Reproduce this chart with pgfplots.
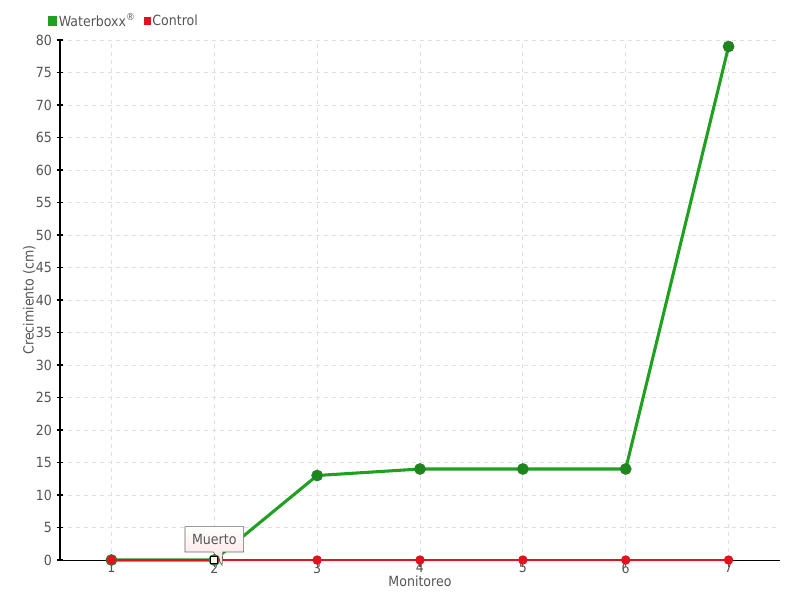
\documentclass[border=0pt]{standalone}
\usepackage{pgfplots}
\pgfplotsset{compat=1.18}
\usepackage{fontspec}
\setmainfont{DejaVu Sans Condensed}
\usetikzlibrary{shapes.callouts,shadings}
\definecolor{txt}{HTML}{555555}
\definecolor{wgreen}{HTML}{1FA01F}
\definecolor{wdark}{HTML}{2E7D2E}
\definecolor{cred}{HTML}{E3101E}
\definecolor{gridc}{HTML}{E0E0E0}
\begin{document}
\begin{tikzpicture}[x=0.75pt,y=0.75pt]
\path[use as bounding box] (-60,-40) rectangle (740,560);
\begin{axis}[
  scale only axis,
  width=540pt, height=390pt,
  at={(0,0)}, anchor=south west,
  xmin=0.5, xmax=7.5, ymin=0, ymax=80,
  xtick={1,...,7}, ytick={0,5,...,80},
  axis x line*=bottom, axis y line*=left,
  axis line style={black, line width=0.9pt, -},
  x axis line style={line width=0.6pt},
  tick style={txt, line width=0.8pt},
  ytick style={black},
  major tick length=5pt,
  xtick align=outside, ytick align=center,
  grid=major,
  major grid style={gridc, dashed, line width=0.6pt},
  tick label style={font=\fontsize{10.5}{12}\selectfont, text=txt},
  /pgf/number format/assume math mode=true,
  xticklabel style={yshift=6.5pt},
  ylabel={Crecimiento (cm)},
  xlabel={Monitoreo},
  label style={font=\fontsize{10.5}{12}\selectfont, text=txt},
  ylabel style={yshift=-6.5pt},
  xlabel style={yshift=5pt},
  legend style={at={(-0.0167,1.0365)}, anchor=west, draw=none, fill=none,
    font=\fontsize{10.5}{12}\selectfont, text=txt, legend columns=2,
    /tikz/every even column/.append style={column sep=5pt},
    inner sep=0pt, nodes={inner sep=1pt}},
  legend image code/.code={\fill[#1] (0pt,-2.3pt) rectangle (4.6pt,2.3pt);},
  clip=false,
]
\addplot[wgreen, line width=2.3pt, mark=*, mark size=4pt,
  mark options={fill=wgreen!85!black, draw=wdark, line width=0.8pt}]
  coordinates {(1,0) (2,0) (3,13) (4,14) (5,14) (6,14) (7,79)};
\addlegendentry{Waterboxx\textsuperscript{®}}
\addplot[cred, line width=1pt, mark=*, mark size=3pt,
  mark options={fill=cred, draw=cred}]
  coordinates {(1,0) (2,0) (3,0) (4,0) (5,0) (6,0) (7,0)};
\addlegendentry{Control}
\addplot[forget plot, only marks, mark=square*, mark size=2.6pt,
  mark options={fill=white, draw=black, line width=1pt}]
  coordinates {(2,0)};
\node[rectangle callout, callout relative pointer={(3pt,-10pt)},
  draw=gray!80!black, line width=0.5pt, top color=white, bottom color=red!12,
  font=\fontsize{10.5}{12}\selectfont, text=txt,
  minimum width=44pt, minimum height=19pt, inner sep=2pt]
  at ([xshift=0pt,yshift=15.5pt]axis cs:2,0) {Muerto};
\end{axis}
\end{tikzpicture}
\end{document}
